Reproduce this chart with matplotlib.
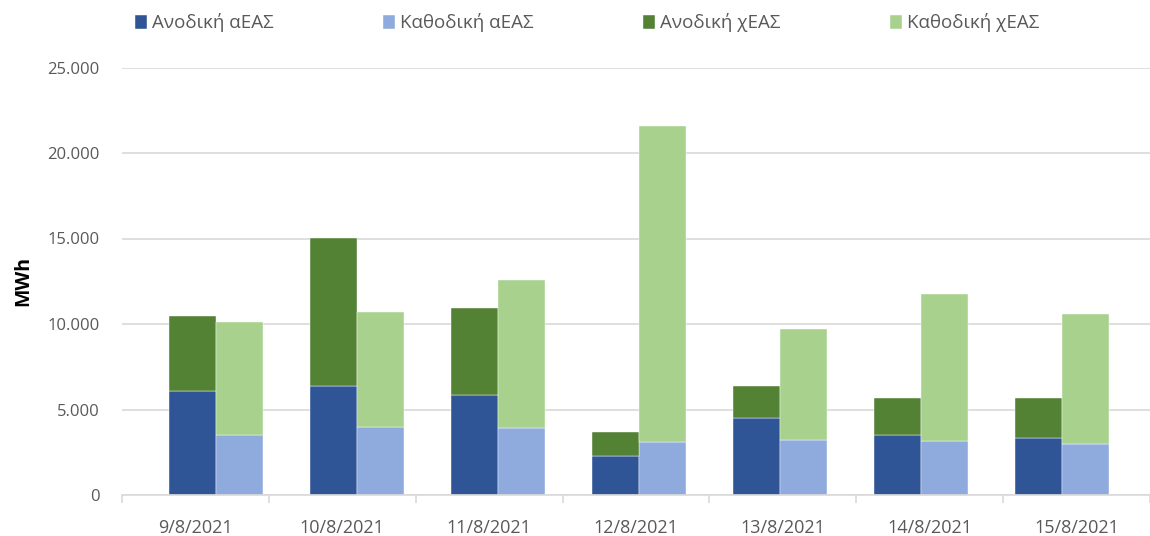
import numpy as np
import matplotlib
matplotlib.use("Agg")
import matplotlib.pyplot as plt
from matplotlib.ticker import FuncFormatter, FixedLocator

plt.rcParams['font.family'] = ['Open Sans', 'DejaVu Sans']

dates = ["9/8/2021", "10/8/2021", "11/8/2021", "12/8/2021", "13/8/2021", "14/8/2021", "15/8/2021"]
up_a = [6060, 6390, 5850, 2300, 4520, 3530, 3350]
down_a = [3530, 3960, 3920, 3120, 3220, 3180, 2960]
up_x = [4410, 8640, 5090, 1400, 1840, 2140, 2300]
down_x = [6590, 6720, 8630, 18460, 6510, 8590, 7610]
series_names = ["Ανοδική αΕΑΣ", "Καθοδική αΕΑΣ", "Ανοδική χΕΑΣ", "Καθοδική χΕΑΣ"]
colors = ["#2F5597", "#8FAADC", "#548235", "#A9D18E"]

W, H = 1150, 536
fig = plt.figure(figsize=(W/100, H/100), dpi=100)
ax = fig.add_axes([122/W, 41/H, (1150-122)/W, (495-67.5)/H])

x = np.arange(len(dates))
bw = 0.333
ua, da, ux, dx = map(np.array, (up_a, down_a, up_x, down_x))
h1 = ax.bar(x - bw/2, ua, bw, color=colors[0], edgecolor="white", linewidth=0.3)
h2 = ax.bar(x + bw/2, da, bw, color=colors[1], edgecolor="white", linewidth=0.3)
h3 = ax.bar(x - bw/2, ux, bw, bottom=ua, color=colors[2], edgecolor="white", linewidth=0.3)
h4 = ax.bar(x + bw/2, dx, bw, bottom=da, color=colors[3], edgecolor="white", linewidth=0.3)

ax.set_xlim(-0.667, 6.625)
ax.set_ylim(0, 25000)
ax.yaxis.set_major_locator(FixedLocator(np.arange(0, 25001, 5000)))
ax.yaxis.set_major_formatter(FuncFormatter(lambda v, p: f"{int(v):,}".replace(",", ".")))
ax.grid(axis="y", color="#D9D9D9", linewidth=1.2)
ax.set_axisbelow(True)
for s in ["top", "right", "left"]:
    ax.spines[s].set_visible(False)
ax.spines["bottom"].set_color("#D9D9D9")
ax.spines["bottom"].set_linewidth(1.2)
ax.tick_params(axis="y", length=0, labelsize=12, labelcolor="#595959", pad=16)
ax.set_xticks([])
ax.set_ylabel("MWh", fontsize=14, fontweight="bold", labelpad=10)

# category axis
ax2 = ax.twiny()
ax2.set_xlim(0, len(dates))
ax2.xaxis.set_ticks_position("bottom")
ax2.xaxis.set_label_position("bottom")
ax2.set_xticks(np.arange(len(dates)) + 0.5)
ax2.set_xticklabels(dates)
ax2.set_xticks(np.arange(len(dates) + 1), minor=True)
ax2.tick_params(axis="x", which="major", length=0, labelsize=13, labelcolor="#595959", pad=17)
ax2.tick_params(axis="x", which="minor", length=6, color="#D9D9D9", width=1.2)
for s in ax2.spines.values():
    s.set_visible(False)

fig.legend([h1, h2, h3, h4], series_names, loc="center", bbox_to_anchor=(587/W, 1-23/H),
           ncol=4, frameon=False, fontsize=13.5, handlelength=0.65, handleheight=0.7,
           handletextpad=0.25, columnspacing=5.85, labelcolor="#595959")

fig.savefig("out.png", dpi=100)
